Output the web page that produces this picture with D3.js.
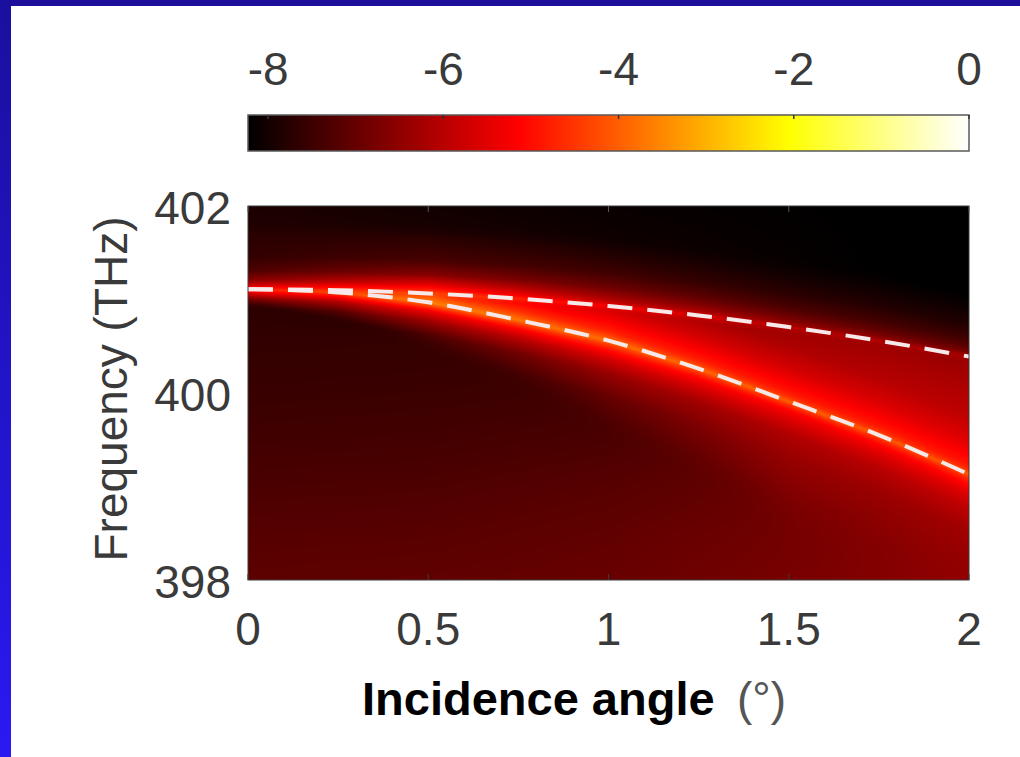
<!DOCTYPE html>
<html>
<head>
<meta charset="utf-8">
<script src="https://cdn.jsdelivr.net/npm/d3@7"></script>
<style>
  html, body { margin: 0; padding: 0; background: #fff; }
  svg { display: block; }
</style>
</head>
<body>
<script>
// ---- mode dispersion (incidence angle in degrees -> frequency in THz) ----
const angles     = [0, 0.25, 0.5, 0.75, 1, 1.25, 1.5, 1.75, 2];
const upperMode  = [401.11, 401.10, 401.065, 401.01, 400.93, 400.83, 400.705, 400.56, 400.39];
const lowerMode  = [401.11, 401.075, 400.97, 400.78, 400.56, 400.26, 399.91, 399.55, 399.13];

// ---- axes ----
const xTicks      = [0, 0.5, 1, 1.5, 2];
const xTickLabels = ["0", "0.5", "1", "1.5", "2"];
const yTicks      = [398, 400, 402];
const yTickLabels = ["398", "400", "402"];
const cbTicks     = [-8, -6, -4, -2, 0];
const cbTickLabels = ["-8", "-6", "-4", "-2", "0"];
const colorLimits = [-8.23, 0];

// ---- log-intensity map, as tables sampled at these angles ----
const mapAngles = [0, 0.5, 1, 1.5, 2];

// far-field level on a regular frequency grid (rows: frequency, cols: mapAngles)
const bgFreqs = [398, 398.5, 399, 399.5, 400, 400.5, 401, 401.5, 402];
const bgLevels = [
  [-7.10, -7.06, -6.98, -6.78, -6.52],
  [-7.20, -7.17, -7.06, -6.86, -6.58],
  [-7.32, -7.29, -7.18, -6.98, -6.70],
  [-7.45, -7.42, -7.33, -7.15, -7.00],
  [-7.55, -7.52, -7.48, -7.40, -7.60],
  [-7.62, -7.60, -7.62, -7.90, -8.10],
  [-7.72, -7.85, -8.10, -8.20, -8.30],
  [-7.80, -7.89, -8.04, -8.16, -8.30],
  [-7.89, -8.01, -8.13, -8.20, -8.30]
];

// level around the lower mode, vs. offset (THz) from it
const lowerOffsets = [-2.0, -1.2, -0.6, -0.35, -0.2, -0.1, -0.05, 0, 0.05, 0.1, 0.2, 0.35, 0.6, 1.0, 1.5];
const lowerLevels = [
  [-9.0, -9.0, -8.00, -7.30, -6.90],
  [-9.0, -9.0, -7.80, -6.85, -6.60],
  [-9.0, -8.0, -7.00, -6.40, -6.30],
  [-9.0, -7.3, -6.40, -6.10, -5.90],
  [-8.0, -6.35, -5.70, -5.60, -5.50],
  [-6.8, -5.4, -5.00, -5.20, -5.05],
  [-5.8, -4.6, -4.50, -4.70, -4.70],
  [-4.9, -3.6, -3.80, -4.00, -4.10],
  [-5.8, -4.0, -4.30, -4.60, -4.60],
  [-6.8, -4.5, -4.75, -4.90, -4.90],
  [-8.0, -5.3, -5.15, -5.20, -5.15],
  [-9.0, -6.2, -5.70, -5.65, -5.50],
  [-9.0, -7.2, -6.50, -6.15, -5.90],
  [-9.0, -8.5, -7.50, -6.50, -6.20],
  [-9.0, -9.0, -8.50, -7.50, -6.60]
];

// level around the upper mode, vs. offset (THz) from it
const upperOffsets = [-0.2, -0.1, -0.05, 0, 0.05, 0.1, 0.2, 0.35, 0.6, 1.0];
const upperLevels = [
  [-9.0, -6.5, -9.0, -9.0, -9.0],
  [-6.8, -5.2, -6.5, -7.0, -7.2],
  [-5.8, -4.6, -5.7, -6.3, -6.5],
  [-4.9, -4.3, -5.2, -6.0, -6.2],
  [-5.8, -4.9, -5.9, -6.5, -6.8],
  [-6.6, -5.5, -6.3, -6.85, -7.1],
  [-7.3, -6.6, -6.9, -7.3, -7.5],
  [-7.65, -7.35, -7.45, -7.7, -7.85],
  [-7.8, -7.75, -7.9, -8.1, -8.2],
  [-9.0, -9.0, -9.0, -9.0, -9.0]
];

// suppression of the lower-mode tail above the upper mode
const cutOffsets = [0, 0.02, 0.05, 0.1, 0.2];
const cutDrop    = [0, 0.6, 1.8, 3.5, 10];

// ---------------------------------------------------------------------
const W = 1020, H = 757;
const plot = { left: 248, right: 969, top: 206, bottom: 580 };
const cbBox = { top: 115, bottom: 151 };
const FONT = "'Liberation Sans', Arial, Helvetica, sans-serif";
const TEXT = "#3a3a3a";

const svg = d3.select("body").append("svg")
  .attr("width", W).attr("height", H)
  .attr("viewBox", `0 0 ${W} ${H}`);

const x = d3.scaleLinear().domain([0, 2]).range([plot.left, plot.right]);
const y = d3.scaleLinear().domain([398, 402]).range([plot.bottom, plot.top]);
const cbx = d3.scaleLinear().domain(colorLimits).range([plot.left, plot.right]);

// MATLAB "hot" colormap
function hot(t) {
  const c = v => Math.max(0, Math.min(1, v));
  const r = c(t / 0.375), g = c((t - 0.375) / 0.375), b = c((t - 0.75) / 0.25);
  return d3.rgb(r * 255, g * 255, b * 255);
}
const color = d3.scaleSequential(hot).domain(colorLimits).clamp(true);

// frame
const defs = svg.append("defs");
const sideGrad = defs.append("linearGradient").attr("id", "side")
  .attr("x1", 0).attr("y1", 0).attr("x2", 0).attr("y2", 1);
sideGrad.append("stop").attr("offset", 0).attr("stop-color", "#1b0f9e");
sideGrad.append("stop").attr("offset", 0.5).attr("stop-color", "#2214c8");
sideGrad.append("stop").attr("offset", 1).attr("stop-color", "#2b19f2");
svg.append("rect").attr("x", 0).attr("y", 0).attr("width", W).attr("height", H).attr("fill", "#fff");
svg.append("rect").attr("x", 0).attr("y", 0).attr("width", W).attr("height", 6).attr("fill", "#1b0f9c");
svg.append("rect").attr("x", 0).attr("y", 0).attr("width", 11).attr("height", H).attr("fill", "url(#side)");

// ---- map lookup helpers built on linear scales ----
const lowerAt = d3.scaleLinear().domain(angles).range(lowerMode);
const upperAt = d3.scaleLinear().domain(angles).range(upperMode);

function table2(rowsKeys, table, rowKey, a, outside) {
  // bilinear lookup: rows indexed by rowsKeys, columns by mapAngles
  if (rowKey < rowsKeys[0] || rowKey > rowsKeys[rowsKeys.length - 1]) {
    if (outside !== undefined) return outside;
    rowKey = Math.max(rowsKeys[0], Math.min(rowsKeys[rowsKeys.length - 1], rowKey));
  }
  let i = d3.bisectRight(rowsKeys, rowKey) - 1;
  i = Math.max(0, Math.min(rowsKeys.length - 2, i));
  const tr = (rowKey - rowsKeys[i]) / (rowsKeys[i + 1] - rowsKeys[i]);
  let j = d3.bisectRight(mapAngles, a) - 1;
  j = Math.max(0, Math.min(mapAngles.length - 2, j));
  const tc = Math.max(0, Math.min(1, (a - mapAngles[j]) / (mapAngles[j + 1] - mapAngles[j])));
  const v00 = table[i][j], v01 = table[i][j + 1], v10 = table[i + 1][j], v11 = table[i + 1][j + 1];
  return (v00 * (1 - tc) + v01 * tc) * (1 - tr) + (v10 * (1 - tc) + v11 * tc) * tr;
}
const cut = d3.scaleLinear().domain(cutOffsets).range(cutDrop).clamp(true);

function level(a, f) {
  const L = lowerAt(a), U = upperAt(a);
  const dl = f - L, du = f - U;
  const bg = table2(bgFreqs, bgLevels, f, a);
  let lw = table2(lowerOffsets, lowerLevels, dl, a, -9);
  if (du > 0) lw -= cut(du);
  const up = table2(upperOffsets, upperLevels, du, a, -9);
  // soft maximum so that the overlapping contributions blend smoothly
  const m = Math.max(bg, lw, up), s = 0.12;
  return m + s * Math.log(Math.exp((bg - m) / s) + Math.exp((lw - m) / s) + Math.exp((up - m) / s)) - s * Math.log(1.0);
}

// ---- heat map raster ----
const pw = plot.right - plot.left, ph = plot.bottom - plot.top;
const canvas = document.createElement("canvas");
canvas.width = pw; canvas.height = ph;
const ctx = canvas.getContext("2d");
const img = ctx.createImageData(pw, ph);
for (let px = 0; px < pw; px++) {
  const a = x.invert(plot.left + px + 0.5);
  for (let py = 0; py < ph; py++) {
    const f = y.invert(plot.top + py + 0.5);
    const c = d3.rgb(color(level(a, f)));
    const k = (py * pw + px) * 4;
    img.data[k] = c.r; img.data[k + 1] = c.g; img.data[k + 2] = c.b; img.data[k + 3] = 255;
  }
}
ctx.putImageData(img, 0, 0);
svg.append("image")
  .attr("x", plot.left).attr("y", plot.top)
  .attr("width", pw).attr("height", ph)
  .attr("preserveAspectRatio", "none")
  .attr("href", canvas.toDataURL());

// ---- mode lines ----
defs.append("clipPath").attr("id", "plotClip").append("rect")
  .attr("x", plot.left).attr("y", plot.top).attr("width", pw).attr("height", ph);
const line = d3.line().x(d => x(d[0])).y(d => y(d[1])).curve(d3.curveMonotoneX);
[upperMode, lowerMode].forEach(mode => {
  svg.append("path")
    .attr("clip-path", "url(#plotClip)")
    .attr("d", line(angles.map((a, i) => [a, mode[i]])))
    .attr("fill", "none")
    .attr("stroke", "#f7e9e9")
    .attr("stroke-width", 4)
    .attr("stroke-dasharray", "25 15");
});

// ---- axes box & ticks ----
const axisColor = "#3c3c3c";
svg.append("rect")
  .attr("x", plot.left).attr("y", plot.top).attr("width", pw).attr("height", ph)
  .attr("fill", "none").attr("stroke", axisColor).attr("stroke-width", 1);
xTicks.forEach(v => {
  svg.append("line").attr("x1", x(v)).attr("x2", x(v)).attr("y1", plot.bottom).attr("y2", plot.bottom - 6)
    .attr("stroke", axisColor).attr("stroke-width", 1);
  svg.append("line").attr("x1", x(v)).attr("x2", x(v)).attr("y1", plot.top).attr("y2", plot.top + 6)
    .attr("stroke", "#555").attr("stroke-width", 1);
});

svg.append("g").selectAll("text").data(xTicks).join("text")
  .attr("x", d => x(d)).attr("y", 645)
  .attr("text-anchor", "middle")
  .attr("font-family", FONT).attr("font-size", 46).attr("fill", TEXT)
  .text((d, i) => xTickLabels[i]);

svg.append("g").selectAll("text").data(yTicks).join("text")
  .attr("x", 231).attr("y", d => y(d) + 18)
  .attr("text-anchor", "end")
  .attr("font-family", FONT).attr("font-size", 46).attr("fill", TEXT)
  .text((d, i) => yTickLabels[i]);

svg.append("text")
  .attr("transform", "translate(127,389) rotate(-90)")
  .attr("text-anchor", "middle")
  .attr("font-family", FONT).attr("font-size", 46).attr("fill", TEXT)
  .text("Frequency (THz)");

svg.append("text").attr("x", 362).attr("y", 715)
  .attr("font-family", FONT).attr("font-size", 47)
  .attr("font-weight", "bold").attr("fill", "#000")
  .text("Incidence angle");
svg.append("text").attr("x", 737).attr("y", 715)
  .attr("font-family", FONT).attr("font-size", 46).attr("fill", "#555")
  .text("(°)");

// ---- colour bar ----
const cbGrad = defs.append("linearGradient").attr("id", "cbGrad")
  .attr("x1", 0).attr("y1", 0).attr("x2", 1).attr("y2", 0);
d3.range(0, 65).forEach(i => {
  const t = i / 64;
  cbGrad.append("stop").attr("offset", t)
    .attr("stop-color", color(colorLimits[0] + t * (colorLimits[1] - colorLimits[0])));
});
svg.append("rect")
  .attr("x", plot.left).attr("y", cbBox.top)
  .attr("width", pw).attr("height", cbBox.bottom - cbBox.top)
  .attr("fill", "url(#cbGrad)")
  .attr("stroke", "#5a5a5a").attr("stroke-width", 1.5);
cbTicks.forEach(v => {
  svg.append("line").attr("x1", cbx(v)).attr("x2", cbx(v))
    .attr("y1", cbBox.top).attr("y2", cbBox.top + 4)
    .attr("stroke", "#333").attr("stroke-width", 1.5);
});
svg.append("g").selectAll("text").data(cbTicks).join("text")
  .attr("x", d => cbx(d)).attr("y", 85)
  .attr("text-anchor", "middle")
  .attr("font-family", FONT).attr("font-size", 46).attr("fill", TEXT)
  .text((d, i) => cbTickLabels[i]);
</script>
</body>
</html>
